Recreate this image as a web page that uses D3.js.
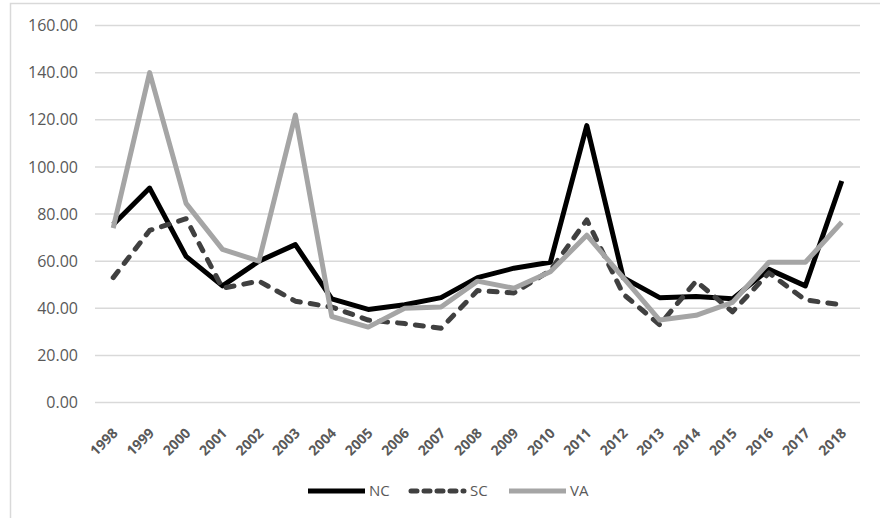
<!DOCTYPE html>
<html>
<head>
<meta charset="utf-8">
<script src="https://cdn.jsdelivr.net/npm/d3@7"></script>
<style>
  html, body { margin: 0; padding: 0; background: #fff; }
  svg { display: block; }
</style>
</head>
<body>
<svg id="chart" width="880" height="518"></svg>
<script>
const years = ["1998","1999","2000","2001","2002","2003","2004","2005","2006","2007","2008","2009","2010","2011","2012","2013","2014","2015","2016","2017","2018"];
const ncValues = [75.5, 91, 62, 49.5, 60, 67, 44, 39.5, 41.5, 44.5, 53, 57, 59.5, 117.5, 53, 44.5, 45, 44, 56.5, 49.5, 94];
const scValues = [53, 73, 78, 48.5, 51.5, 43, 40.5, 35, 33.5, 31.5, 47.5, 46.5, 56, 77.5, 46, 33, 51.5, 38.5, 55, 43.5, 41.5];
const vaValues = [74, 140, 84.5, 65, 60, 122, 36.5, 32, 40, 40.5, 51.5, 48.5, 55.5, 71, 53, 35, 37, 42.5, 59.5, 59.5, 76.5];
const yTicks = [0, 20, 40, 60, 80, 100, 120, 140, 160];
const seriesNames = ["NC", "SC", "VA"];

const series = [
  { name: seriesNames[0], values: ncValues, color: "#000000", dash: null },
  { name: seriesNames[1], values: scValues, color: "#404040", dash: "8,10" },
  { name: seriesNames[2], values: vaValues, color: "#a5a5a5", dash: null }
];

const svg = d3.select("#chart");
const font = "'Open Sans', 'Noto Sans', sans-serif";

// chart border
svg.append("rect")
  .attr("x", 10.5).attr("y", 3.5)
  .attr("width", 900).attr("height", 600)
  .attr("fill", "none").attr("stroke", "#d9d9d9").attr("stroke-width", 1.5);

const pLeft = 95, pRight = 860, pTop = 25.5, pBottom = 402.5;

const x = d3.scaleBand().domain(years).range([pLeft, pRight]);
const y = d3.scaleLinear().domain([0, 160]).range([pBottom, pTop]);

// gridlines
svg.append("g").selectAll("line").data(yTicks).join("line")
  .attr("x1", pLeft).attr("x2", pRight)
  .attr("y1", d => y(d)).attr("y2", d => y(d))
  .attr("stroke", "#d9d9d9").attr("stroke-width", 1.5);

// y axis
const yAxis = d3.axisLeft(y).tickValues(yTicks).tickFormat(d3.format(".2f")).tickSize(0).tickPadding(17);
const yg = svg.append("g").attr("transform", `translate(${pLeft},0)`).call(yAxis);
yg.select(".domain").remove();
yg.selectAll("text").attr("fill", "#595959").style("font-family", font).style("font-size", "16px");

// x axis
const xAxis = d3.axisBottom(x).tickSize(0).tickPadding(0);
const xg = svg.append("g").attr("transform", `translate(0,${pBottom})`).call(xAxis);
xg.select(".domain").remove();
xg.selectAll("text")
  .attr("fill", "#595959")
  .style("font-family", font).style("font-size", "14px").style("font-weight", "bold")
  .attr("text-anchor", "end")
  .attr("dy", "0.35em")
  .attr("transform", "translate(2,28) rotate(-45)");

// lines
const line = d3.line().x((d, i) => x(years[i]) + x.bandwidth() / 2).y(d => y(d));
svg.append("g").selectAll("path").data(series).join("path")
  .attr("d", d => line(d.values))
  .attr("fill", "none")
  .attr("stroke", d => d.color)
  .attr("stroke-width", 5)
  .attr("stroke-linejoin", "round")
  .attr("stroke-linecap", d => d.dash ? "round" : "butt")
  .attr("stroke-dasharray", d => d.dash);

// legend
const legendX = [308, 409, 509];
const legendY = 491;
const lg = svg.append("g").selectAll("g").data(series).join("g")
  .attr("transform", (d, i) => `translate(${legendX[i]},${legendY})`);
lg.append("line")
  .attr("x1", d => d.dash ? 2 : 0).attr("x2", d => d.dash ? 55 : 57)
  .attr("y1", 0).attr("y2", 0)
  .attr("stroke", d => d.color).attr("stroke-width", 5)
  .attr("stroke-linecap", d => d.dash ? "round" : "butt")
  .attr("stroke-dasharray", d => d.dash ? "6,7" : null);
lg.append("text")
  .attr("x", 61).attr("y", 0).attr("dy", "0.35em")
  .attr("fill", "#595959")
  .style("font-family", font).style("font-size", "15px")
  .text(d => d.name);
</script>
</body>
</html>
